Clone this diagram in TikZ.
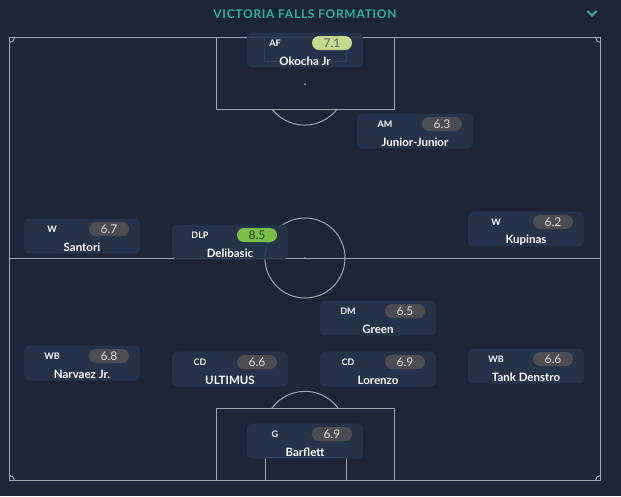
\documentclass[tikz,border=0pt]{standalone}
\usepackage{fontspec}
\setmainfont{Lato}
\newfontfamily\titlefont[LetterSpace=6]{Lato}
\usetikzlibrary{
  positioning,
  calc}
\definecolor{pitchcolor}{RGB}{27,37,55}
\definecolor{cardcolor}{RGB}{37,53,77}
\definecolor{linecolor}{RGB}{160,166,176}
\definecolor{titlecolor}{RGB}{40,182,150}
\definecolor{ratecolor}{RGB}{76,76,82}
\definecolor{goodcolor}{RGB}{197,219,140}
\definecolor{bestcolor}{RGB}{122,193,66}
\tikzset{
  %% card : box behind one player
  card/.style={
    rectangle,
    rounded corners=5pt,
    fill=cardcolor,
    fill opacity=0.9,
    minimum width=116pt,
    minimum height=35pt,
    inner sep=0pt
  },
  %% poslabel : the position (AF, DM, ...)
  poslabel/.style={
    text=white,
    font=\fontsize{9}{10}\selectfont\bfseries,
    inner sep=0pt
  },
  %% rating : the grey pill with the match rating
  rating/.style={
    rectangle,
    rounded corners=7pt,
    fill=ratecolor,
    text=white!88!black,
    minimum width=40pt,
    minimum height=14pt,
    inner sep=0pt,
    font=\fontsize{12}{13}\selectfont
  },
  %% goodrating, bestrating : highlighted ratings
  goodrating/.style={rating, fill=goodcolor, text=black!65},
  bestrating/.style={rating, fill=bestcolor, text=black!80},
  %% playername : name under the position
  playername/.style={
    text=white,
    font=\fontsize{11.5}{13}\selectfont\bfseries,
    inner sep=0pt
  },
  %% pitchline : markings of the pitch
  pitchline/.style={draw=linecolor, line width=1pt}
}
\tikzset{
  pics/player/.style n args={4}{code={
    \node (-card) [card] at (0, 0) {};
    \node (-pos) [poslabel] at (-30, -7) {#1};
    \node (-rate) [#2] at (27, -7) {#3};
    \node (-name) [playername] at (0, 11) {#4};
  }}
}

\begin{document}
\begin{tikzpicture}
  [x=1pt,
  y=-1pt]

  \fill [pitchcolor] (0, 0) rectangle (621, 496);
  \useasboundingbox (0, 0) rectangle (621, 496);

  %% Header
  \node (title) [text=titlecolor, font=\titlefont\fontsize{12}{13}\selectfont\bfseries]
    at (305, 14) {VICTORIA FALLS FORMATION};
  \coordinate (menu) at (592, 14);
  \draw [titlecolor, line width=2pt] ($(menu)+(-4.5, -3)$) -- ($(menu)+(0, 1.5)$)
    -- ($(menu)+(4.5, -3)$);

  %% Pitch
  \draw [pitchline] (9.5, 37.5) rectangle (600.5, 480.5);
  \draw [pitchline] (9.5, 258) -- (600.5, 258);
  \draw [pitchline] (305, 258) circle [radius=40];
  \fill [linecolor] (305, 258) circle [radius=1];

  % Top end
  \draw [pitchline] (216, 37.5) rectangle (394, 109);
  \draw [pitchline] (264, 37.5) rectangle (346, 61);
  \fill [linecolor] (305, 84) circle [radius=1];
  \draw [pitchline] (272, 109) arc [start angle=142.6, end angle=37.4, radius=41];

  % Bottom end
  \draw [pitchline] (216, 408) rectangle (394, 480.5);
  \draw [pitchline] (265, 457) rectangle (346, 480.5);
  \fill [linecolor] (305, 432) circle [radius=1];
  \draw [pitchline] (272, 408) arc [start angle=216.4, end angle=323.6, radius=41];

  % Corners
  \draw [pitchline] (14.5, 37.5) arc [start angle=0, end angle=90, radius=5];
  \draw [pitchline] (595.5, 37.5) arc [start angle=180, end angle=90, radius=5];
  \draw [pitchline] (14.5, 480.5) arc [start angle=0, end angle=-90, radius=5];
  \draw [pitchline] (595.5, 480.5) arc [start angle=180, end angle=270, radius=5];

  %% Players
  \pic (okocha) at (305, 50) {player={AF}{goodrating}{7.1}{Okocha Jr}};
  \pic (junior) at (415, 131) {player={AM}{rating}{6.3}{Junior-Junior}};
  \pic (santori) at (82, 236) {player={W}{rating}{6.7}{Santori}};
  \pic (delibasic) at (230, 242) {player={DLP}{bestrating}{8.5}{Delibasic}};
  \pic (kupinas) at (526, 229) {player={W}{rating}{6.2}{Kupinas}};
  \pic (green) at (378, 318) {player={DM}{rating}{6.5}{Green}};
  \pic (narvaez) at (82, 363) {player={WB}{rating}{6.8}{Narvaez Jr.}};
  \pic (ultimus) at (230, 369) {player={CD}{rating}{6.6}{ULTIMUS}};
  \pic (lorenzo) at (378, 369) {player={CD}{rating}{6.9}{Lorenzo}};
  \pic (denstro) at (526, 366) {player={WB}{rating}{6.6}{Tank Denstro}};
  \pic (barflett) at (305, 441) {player={G}{rating}{6.9}{Barflett}};

\end{tikzpicture}
\end{document}
